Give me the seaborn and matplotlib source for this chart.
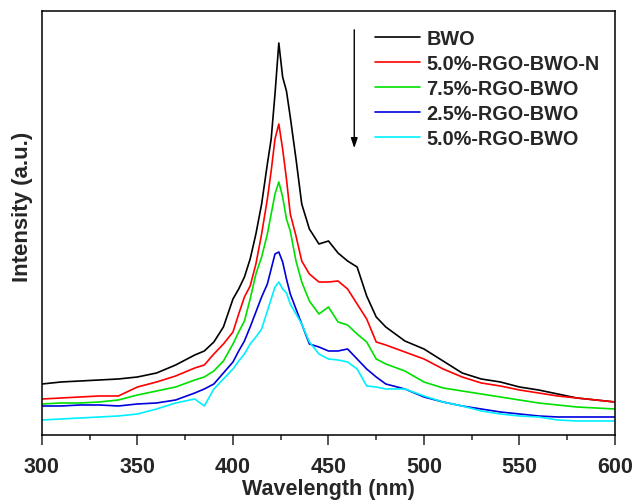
import matplotlib
matplotlib.use("Agg")
import matplotlib.pyplot as plt
import pandas as pd
import seaborn as sns
from matplotlib.ticker import MultipleLocator

# wavelength grid (nm) and PL intensity (a.u.)
wavelength = [300, 310, 320, 330, 340, 350, 360, 370, 380, 385, 390, 395, 400, 403, 406,
              409, 412, 415, 418, 420, 422, 424, 426, 428, 430, 433, 436, 440, 445, 450,
              455, 460, 465, 470, 475, 480, 490, 500, 510, 520, 530, 540, 550, 560, 570,
              580, 590, 600]

bwo = [51, 53, 54, 55, 56, 58, 62, 70, 80, 84, 93, 108, 136, 146, 158,
       176, 201, 231, 271, 296, 341, 392, 358, 344, 318, 276, 231, 206, 191, 194,
       182, 174, 168, 139, 118, 108, 94, 86, 74, 62, 56, 53, 48, 45, 41,
       37, 35, 33]
rgo50_n = [36, 37, 38, 39, 39, 48, 53, 59, 67, 70, 81, 91, 103, 121, 138,
           149, 171, 201, 236, 264, 296, 311, 286, 256, 221, 199, 174, 161, 153, 153,
           154, 146, 131, 116, 93, 90, 83, 76, 66, 58, 52, 49, 45, 42, 39,
           37, 35, 33]
rgo75 = [31, 32, 32, 33, 35, 40, 44, 48, 55, 58, 64, 74, 91, 103, 114,
         136, 161, 178, 201, 221, 241, 253, 238, 216, 204, 174, 153, 134, 121, 128,
         113, 110, 101, 93, 76, 71, 64, 53, 47, 44, 41, 38, 35, 32, 30,
         28, 27, 26]
rgo25 = [29, 29, 30, 30, 29, 31, 32, 35, 42, 46, 51, 62, 73, 84, 94,
         108, 123, 138, 151, 166, 181, 183, 173, 156, 141, 126, 111, 91, 88, 84,
         84, 86, 76, 66, 58, 51, 46, 38, 33, 29, 26, 23, 21, 19, 18,
         18, 18, 18]
rgo50 = [15, 16, 17, 18, 19, 21, 26, 32, 36, 29, 46, 56, 66, 74, 81,
         91, 98, 106, 124, 136, 148, 153, 146, 142, 131, 121, 111, 93, 81, 76,
         75, 73, 66, 49, 48, 46, 46, 39, 33, 29, 24, 21, 19, 18, 15,
         14, 14, 14]

samples = ["BWO", "5.0%-RGO-BWO-N", "7.5%-RGO-BWO", "2.5%-RGO-BWO", "5.0%-RGO-BWO"]
colors = ["#000000", "#ff0000", "#00e000", "#0000dd", "#00f0ff"]

frames = []
for name, vals in zip(samples, [bwo, rgo50_n, rgo75, rgo25, rgo50]):
    frames.append(pd.DataFrame({"wavelength": wavelength, "intensity": vals, "sample": name}))
df = pd.concat(frames, ignore_index=True)

sns.set_style("ticks")
plt.rcParams["font.family"] = ["Liberation Sans", "DejaVu Sans"]
plt.rcParams["font.weight"] = "bold"

fig = plt.figure(figsize=(6.34, 5.02), dpi=100)
ax = fig.add_axes([0.0662, 0.1315, 0.9038, 0.8446])

sns.lineplot(
    data=df, x="wavelength", y="intensity", hue="sample",
    hue_order=samples, palette=colors, linewidth=1.2, ax=ax,
)

ax.set_xlim(300, 600)
ax.set_ylim(0, 424)
ax.xaxis.set_major_locator(MultipleLocator(50))
ax.xaxis.set_minor_locator(MultipleLocator(25))
ax.set_yticks([])
ax.tick_params(axis="x", which="major", direction="out", length=7, width=1.1,
               labelsize=15.5, pad=8)
ax.tick_params(axis="x", which="minor", direction="out", length=3.5, width=1.1)
for lab in ax.get_xticklabels():
    lab.set_fontweight("bold")
for sp in ax.spines.values():
    sp.set_linewidth(1.1)
    sp.set_color("black")

ax.set_xlabel("Wavelength (nm)", fontsize=15.5, fontweight="bold", labelpad=1)
ax.set_ylabel("Intensity (a.u.)", fontsize=16, fontweight="bold")
ax.yaxis.set_label_coords(-0.016, 0.54)

leg = ax.legend(
    loc="upper left", bbox_to_anchor=(0.553, 0.995), frameon=False,
    fontsize=14.3, handlelength=2.3, handletextpad=0.3, labelspacing=0.3,
    borderaxespad=0.4,
)
for t in leg.get_texts():
    t.set_fontweight("bold")

ax.annotate(
    "", xy=(463.5, 284), xytext=(463.5, 408),
    arrowprops=dict(arrowstyle="-|>,head_length=0.6,head_width=0.2",
                    color="black", lw=1.0),
)

fig.savefig("out.png", dpi=100)
